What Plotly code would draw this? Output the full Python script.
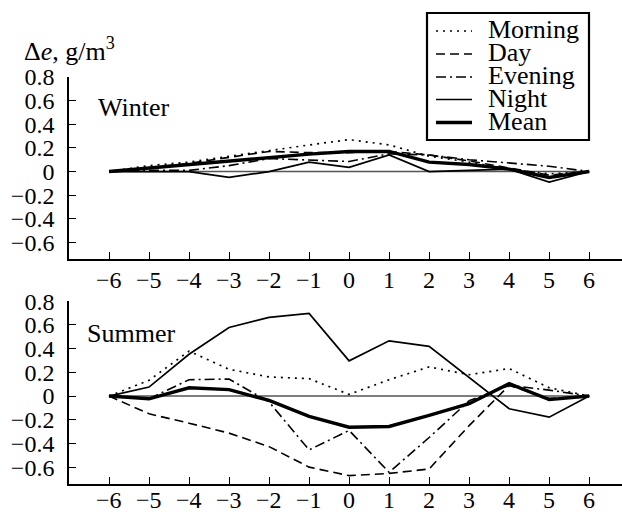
import plotly.graph_objects as go

# ---------------- data ----------------
hours = [-6, -5, -4, -3, -2, -1, 0, 1, 2, 3, 4, 5, 6]
series_names = ["Morning", "Day", "Evening", "Night", "Mean"]

winter_morning = [0, 0.05, 0.08, 0.13, 0.175, 0.225, 0.27, 0.225, 0.13, 0.08, 0.02, -0.02, 0]
winter_day     = [0, 0.03, 0.07, 0.12, 0.17, 0.16, 0.16, 0.17, 0.14, 0.09, 0.03, -0.03, 0]
winter_evening = [0, 0.01, 0.01, 0.05, 0.11, 0.096, 0.085, 0.15, 0.14, 0.10, 0.07, 0.045, 0]
winter_night   = [0, 0, 0, -0.05, 0, 0.08, 0.036, 0.14, 0, 0.01, 0.02, -0.09, 0]
winter_mean    = [0, 0.03, 0.06, 0.09, 0.12, 0.147, 0.17, 0.17, 0.08, 0.06, 0.02, -0.05, 0]

summer_morning = [0, 0.133, 0.379, 0.226, 0.161, 0.147, 0.014, 0.138, 0.246, 0.18, 0.232, 0.07, 0]
summer_day     = [0, -0.15, -0.229, -0.313, -0.427, -0.60, -0.672, -0.653, -0.616, -0.25, 0.09, -0.02, 0]
summer_evening = [0, -0.023, 0.138, 0.144, -0.05, -0.455, -0.29, -0.644, -0.35, -0.04, 0.09, 0.05, 0]
summer_night   = [0, 0.076, 0.353, 0.579, 0.664, 0.698, 0.297, 0.466, 0.42, 0.16, -0.107, -0.178, 0]
summer_mean    = [0, -0.023, 0.07, 0.054, -0.037, -0.172, -0.263, -0.257, -0.164, -0.065, 0.105, -0.03, 0]

y_tickvals = [-0.6, -0.4, -0.2, 0, 0.2, 0.4, 0.6, 0.8]
y_ticktext = ["\u22120.6", "\u22120.4", "\u22120.2", "0", "0.2", "0.4", "0.6", "0.8"]
x_ticktext = [("\u2212" + str(-h)) if h < 0 else str(h) for h in hours]

# ---------------- styles ----------------
FONT = "Liberation Serif, Times New Roman, serif"
styles = {
    "Morning": dict(width=1.7, dash="2px,5px"),
    "Day":     dict(width=1.6, dash="9px,5px"),
    "Evening": dict(width=1.6, dash="10px,4px,2px,4px"),
    "Night":   dict(width=1.7, dash="solid"),
    "Mean":    dict(width=3.4, dash="solid"),
}

W, H = 622, 514
ML, MR, MT, MB = 69, 0, 77, 30
PW, PH = W - ML - MR, H - MT - MB


def px(x):
    return (x - ML) / PW


def py(y):
    return (H - MB - y) / PH


fig = go.Figure()

panels = [
    ("y", [winter_morning, winter_day, winter_evening, winter_night, winter_mean]),
    ("y2", [summer_morning, summer_day, summer_evening, summer_night, summer_mean]),
]
for yref, data in panels:
    xa = "x" if yref == "y" else "x2"
    for name, vals in zip(series_names, data):
        st = styles[name]
        fig.add_trace(go.Scatter(
            x=hours, y=vals, mode="lines", name=name, showlegend=False,
            xaxis=xa, yaxis=yref, hoverinfo="skip",
            line=dict(color="black", width=st["width"], dash=st["dash"]),
        ))
    # zero reference line
    fig.add_shape(type="line", xref=xa, yref=yref, x0=hours[0], x1=hours[-1], y0=0, y1=0,
                  line=dict(color="#555555", width=1.4), layer="below")

axis_common = dict(
    showline=True, linecolor="black", linewidth=1.6, mirror=False,
    ticks="inside", ticklen=7, tickwidth=1.4, tickcolor="black",
    showgrid=False, zeroline=False,
    tickfont=dict(family=FONT, size=24, color="black"),
)
top_dom = [py(259), 1.0]
bot_dom = [py(483.7), py(301.3)]

fig.update_layout(
    width=W, height=H,
    margin=dict(l=ML, r=MR, t=MT, b=MB),
    paper_bgcolor="white", plot_bgcolor="white",
    showlegend=False,
    xaxis=dict(axis_common, domain=[0, 1], range=[-7, 6.82], tickvals=hours, showticklabels=False,
               anchor="y"),
    yaxis=dict(axis_common, domain=top_dom, range=[-0.74, 0.8], tickvals=y_tickvals,
               ticktext=y_ticktext, anchor="x", ticklabelstandoff=8),
    xaxis2=dict(axis_common, domain=[0, 1], range=[-7, 6.82], tickvals=hours, showticklabels=False,
                anchor="y2"),
    yaxis2=dict(axis_common, domain=bot_dom, range=[-0.74, 0.8], tickvals=y_tickvals,
                ticktext=y_ticktext, anchor="x2", ticklabelstandoff=8),
)

ann_font = dict(family=FONT, size=26, color="black")
tick_font = dict(family=FONT, size=24, color="black")
annotations = [
    dict(text="\u0394<i>e</i>, g/m<sup>3</sup>", x=px(22), y=py(50), xanchor="left", yanchor="middle",
         font=ann_font, xref="paper", yref="paper"),
    dict(text="Winter", x=px(96), y=py(107), xanchor="left", yanchor="middle", font=ann_font,
         xref="paper", yref="paper"),
    dict(text="Summer", x=px(85), y=py(333), xanchor="left", yanchor="middle", font=ann_font,
         xref="paper", yref="paper"),
]

# x tick labels (placed as text under each axis)
for xa, ylab in (("x", 280), ("x2", 500)):
    for h, t in zip(hours, x_ticktext):
        annotations.append(dict(text=t, x=h, xref=xa, y=py(ylab), yref="paper",
                                xanchor="center", yanchor="middle", font=tick_font))

# custom legend box
legend_rows_y = [31, 54, 77, 99.5, 122.5]
fig.add_shape(type="rect", xref="paper", yref="paper", x0=px(427), x1=px(589), y0=py(140), y1=py(13),
              line=dict(color="black", width=2.2), fillcolor="white", layer="above")
for name, yy in zip(series_names, legend_rows_y):
    st = styles[name]
    fig.add_shape(type="line", xref="paper", yref="paper", x0=px(436), x1=px(472), y0=py(yy), y1=py(yy),
                  line=dict(color="black", width=st["width"], dash=st["dash"]), layer="above")
    annotations.append(dict(text=name, x=px(486), y=py(yy - 1), xanchor="left", yanchor="middle",
                            font=ann_font, xref="paper", yref="paper"))

for a in annotations:
    a["showarrow"] = False
fig.update_layout(annotations=annotations)

fig.write_html("out.html", config={"displayModeBar": False},
               post_script="document.body.style.margin='0';document.body.style.padding='0';")
